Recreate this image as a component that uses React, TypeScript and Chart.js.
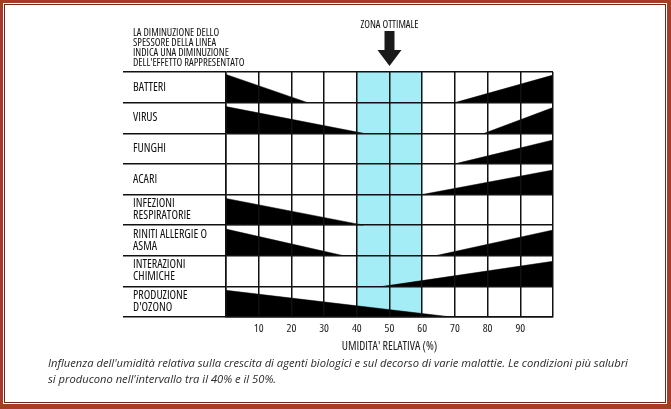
import React, { useEffect, useRef } from 'react';
import { Chart, registerables } from 'chart.js';

Chart.register(...registerables);

// ---------- data ----------
const CATEGORIES: string[][] = [
  ['BATTERI'],
  ['VIRUS'],
  ['FUNGHI'],
  ['ACARI'],
  ['INFEZIONI', 'RESPIRATORIE'],
  ['RINITI ALLERGIE O', 'ASMA'],
  ['INTERAZIONI', 'CHIMICHE'],
  ['PRODUZIONE', "D'OZONO"],
];
// decreasing effect: full at 0% humidity, vanishes at this humidity (%)
const DECREASE_END: (number | null)[] = [25, 42, null, null, 42, 36, null, 69];
const DECREASE_HEIGHT: (number | null)[] = [0.92, 0.87, null, null, 0.87, 0.87, null, 0.87];
// increasing effect: starts at this humidity (%), full at 100%
const INCREASE_START: (number | null)[] = [70, 79, 70, 60, null, 64, 48, null];
const INCREASE_HEIGHT: (number | null)[] = [0.9, 0.84, 0.78, 0.8, null, 0.84, 0.82, null];

const X_TICKS: number[] = [0, 10, 20, 30, 40, 50, 60, 70, 80, 90, 100];
const X_LABELLED: number[] = [10, 20, 30, 40, 50, 60, 70, 80, 90];
const OPTIMAL_ZONE: number[] = [40, 60];
const OPTIMAL_ARROW_AT = 50;

const X_TITLE = "UMIDITA' RELATIVA (%)";
const ZONE_LABEL = 'ZONA OTTIMALE';
const NOTE_LINES: string[] = [
  'LA DIMINUZIONE DELLO',
  'SPESSORE DELLA LINEA',
  'INDICA UNA DIMINUZIONE',
  "DELL'EFFETTO RAPPRESENTATO",
];
const CAPTION_LINES: string[] = [
  "Influenza dell'umidità relativa sulla crescita di agenti biologici e sul decorso di varie malattie. Le condizioni più salubri",
  "si producono nell'intervallo tra il 40% e il 50%.",
];

// ---------- styling ----------
const FAMILY = "'Open Sans', 'Liberation Sans', Arial, sans-serif";
const STRETCH = 'condensed';
const INK = '#111111';
const CYAN = '#A4ECF6';

const annotationPlugin = {
  id: 'humidityAnnotations',
  afterDraw(chart: any) {
    const ctx = chart.ctx as CanvasRenderingContext2D;
    const xs = chart.scales.x;
    const ys = chart.scales.y;
    ctx.save();
    ctx.fillStyle = INK;
    ctx.textBaseline = 'middle';
    ctx.font = `normal ${STRETCH} 10.5px ${FAMILY}`;
    ctx.textAlign = 'left';
    NOTE_LINES.forEach((t, i) => ctx.fillText(t, ys.left, 33 + i * 10));
    const cx = xs.getPixelForValue(OPTIMAL_ARROW_AT);
    ctx.textAlign = 'center';
    ctx.fillText(ZONE_LABEL, cx, 25);
    ctx.fillStyle = '#1a1a1a';
    ctx.fillRect(cx - 5, 31, 10, 20);
    ctx.beginPath();
    ctx.moveTo(cx - 12, 50);
    ctx.lineTo(cx + 12, 50);
    ctx.lineTo(cx, 66);
    ctx.closePath();
    ctx.fill();
    ctx.restore();
  },
};

function buildDatasets() {
  const rows = CATEGORIES.length;
  const ds: any[] = [];
  ds.push({
    label: 'zona ottimale',
    data: [
      { x: OPTIMAL_ZONE[0], y: rows },
      { x: OPTIMAL_ZONE[1], y: rows },
    ],
    fill: { value: 0 },
    backgroundColor: CYAN,
    borderWidth: 0,
    pointRadius: 0,
    order: 10,
  });
  CATEGORIES.forEach((_, i) => {
    const base = rows - 1 - i;
    const dEnd = DECREASE_END[i];
    const dH = DECREASE_HEIGHT[i];
    if (dEnd !== null && dH !== null) {
      ds.push({
        label: CATEGORIES[i].join(' ') + ' (diminuzione)',
        data: [
          { x: 0, y: base + dH },
          { x: dEnd, y: base },
        ],
        fill: { value: base },
        backgroundColor: '#000000',
        borderColor: '#000000',
        borderWidth: 0.5,
        pointRadius: 0,
        order: 0,
      });
    }
    const iStart = INCREASE_START[i];
    const iH = INCREASE_HEIGHT[i];
    if (iStart !== null && iH !== null) {
      ds.push({
        label: CATEGORIES[i].join(' ') + ' (aumento)',
        data: [
          { x: iStart, y: base },
          { x: 100, y: base + iH },
        ],
        fill: { value: base },
        backgroundColor: '#000000',
        borderColor: '#000000',
        borderWidth: 0.5,
        pointRadius: 0,
        order: 0,
      });
    }
  });
  return ds;
}

export default function App() {
  const canvasRef = useRef<HTMLCanvasElement | null>(null);

  useEffect(() => {
    if (!canvasRef.current) return;
    const rows = CATEGORIES.length;
    const chart = new Chart(canvasRef.current, {
      type: 'line',
      data: { datasets: buildDatasets() },
      options: {
        animation: false,
        responsive: false,
        devicePixelRatio: 1,
        layout: { padding: { left: 133, right: 118, top: 72, bottom: 52 } },
        plugins: {
          legend: { display: false },
          tooltip: { enabled: false },
          title: { display: false },
        },
        scales: {
          x: {
            type: 'linear',
            min: 0,
            max: 100,
            afterBuildTicks: (s: any) => {
              s.ticks = X_TICKS.map((v) => ({ value: v }));
            },
            afterFit: (s: any) => {
              s.height = 40;
            },
            grid: {
              color: INK,
              lineWidth: 1.5,
              drawTicks: false,
              z: 1,
            },
            border: { display: true, color: INK, width: 1.5, z: 1 },
            ticks: {
              autoSkip: false,
              maxRotation: 0,
              padding: 5,
              color: '#222',
              font: { family: FAMILY, weight: STRETCH, size: 11.5 },
              callback: (v: any) => (X_LABELLED.includes(Number(v)) ? String(v) : ''),
            },
            title: {
              display: true,
              text: X_TITLE,
              color: '#222',
              font: { family: FAMILY, weight: STRETCH, size: 12 },
              padding: { top: 0, bottom: 3 },
            },
          },
          y: {
            type: 'linear',
            min: 0,
            max: rows,
            afterBuildTicks: (s: any) => {
              s.ticks = CATEGORIES.map((_, i) => ({ value: rows - 1 - i + 0.5 }));
            },
            afterFit: (s: any) => {
              s.width = 93;
            },
            grid: {
              offset: true,
              color: INK,
              lineWidth: 1.5,
              drawTicks: true,
              tickLength: 103,
              tickColor: INK,
              z: 1,
            },
            border: { display: true, color: INK, width: 1.5, z: 1 },
            ticks: {
              autoSkip: false,
              crossAlign: 'far',
              padding: 0,
              color: '#111',
              font: { family: FAMILY, weight: STRETCH, size: 12, lineHeight: 1.0 },
              callback: (v: any) => {
                const idx = rows - 1 - Math.floor(Number(v));
                return CATEGORIES[idx] ?? '';
              },
            },
          },
        },
      } as any,
      plugins: [annotationPlugin],
    });
    return () => chart.destroy();
  }, []);

  return (
    <div
      style={{
        position: 'absolute',
        left: 0,
        top: 0,
        width: 671,
        height: 409,
        background: '#ffffff',
        overflow: 'hidden',
      }}
    >
      <canvas ref={canvasRef} width={671} height={409} style={{ position: 'absolute', left: 0, top: 0 }} />
      <div
        style={{
          position: 'absolute',
          left: 48,
          top: 355,
          width: 620,
          fontFamily: "'Open Sans', 'DejaVu Sans', sans-serif",
          fontStyle: 'italic',
          fontSize: 11.2,
          lineHeight: '16px',
          color: '#2a2a2a',
          whiteSpace: 'nowrap',
        }}
      >
        {CAPTION_LINES.map((l, i) => (
          <div key={i}>{l}</div>
        ))}
      </div>
      <div
        style={{
          position: 'absolute',
          inset: 0,
          borderStyle: 'solid',
          borderColor: '#a83a2a',
          borderWidth: '3px 4px 5px 3px',
          boxSizing: 'border-box',
          pointerEvents: 'none',
        }}
      />
      <div
        style={{
          position: 'absolute',
          left: 4,
          top: 4,
          right: 5,
          bottom: 6,
          border: '1px solid #6e2a1e',
          boxSizing: 'border-box',
          pointerEvents: 'none',
        }}
      />
    </div>
  );
}
